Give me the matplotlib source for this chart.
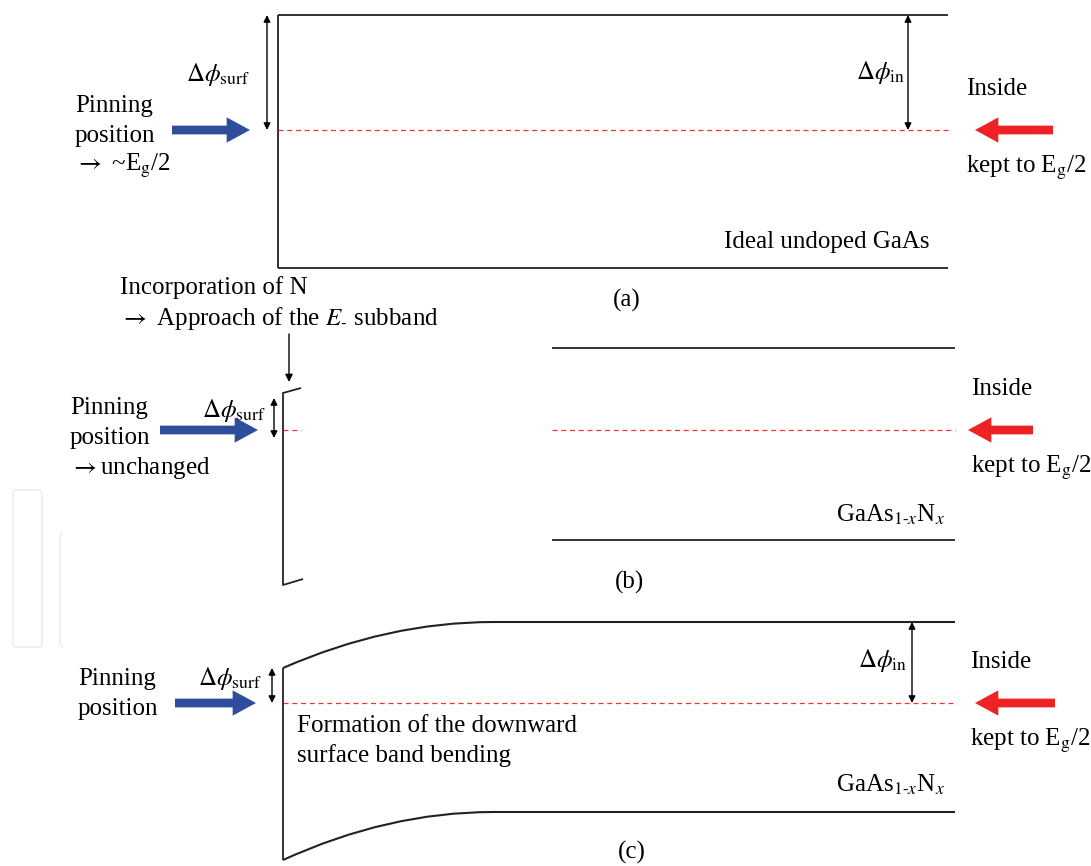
import matplotlib.pyplot as plt
from matplotlib.path import Path
from matplotlib.patches import PathPatch, FancyBboxPatch

plt.rcParams['font.family'] = ['Liberation Serif', 'DejaVu Serif']
plt.rcParams['mathtext.fontset'] = 'stix'

# level positions (pixel units, y grows downward)
surf_x = [278, 283, 283]              # surface position in (a), (b), (c)
band_right = [948, 955, 955]          # right end of the band lines
cb_level = [15, 348, 622]             # conduction band edge, bulk
vb_level = [268, 540, 812]            # valence band edge, bulk
ef_level = [130, 430, 703]            # Fermi level (Eg/2)
surf_cb = [15, 393, 668]              # conduction band edge at the surface
surf_vb = [268, 585, 860]             # valence band edge at the surface
bend_end = 493                        # where bending in (c) flattens out
b_left = 552                          # bulk part of (b) starts here
panel_tags = ['(a)', '(b)', '(c)']
tag_pos = [(627, 300), (630, 582), (632, 852)]

pin_labels = [['Pinning', 'position', r'$\rightarrow$ ~E$_\mathrm{g}$/2'],
              ['Pinning', 'position', r'$\rightarrow$unchanged'],
              ['Pinning', 'position']]
pin_x = [75, 70, 78]
pin_y = [[106, 136, 166], [408, 438, 468], [679, 709]]
blue_arrow = [(172, 250), (160, 258), (175, 256)]
red_arrow = [(1053, 975), (1033, 968), (1055, 975)]
inside_x = [966, 971, 970]
surf_arrow_x = [267, 274, 272]
surf_label_x = [250, 266, 262]
surf_label_y = [75, 411, 679]
in_arrow_x = [908, None, 912]

fig = plt.figure(figsize=(10.91, 8.66), dpi=100)
ax = fig.add_axes([0, 0, 1, 1])
ax.set_xlim(0, 1091)
ax.set_ylim(866, 0)
ax.axis('off')

line_kw = dict(color='#222222', lw=1.3, solid_capstyle='butt')
dash_kw = dict(color='#ee3333', lw=0.9, dashes=(4, 3))
fs = 18


def txt(x, y, s, ha='left', size=fs):
    ax.text(x, y, s, ha=ha, va='center', fontsize=size, color='black')


def double_arrow(x, y0, y1):
    ax.annotate('', xy=(x, y0), xytext=(x, y1),
                arrowprops=dict(arrowstyle='<|-|>', color='black', lw=1.0,
                                mutation_scale=10, shrinkA=0, shrinkB=0))


def fat_arrow(x0, x1, y, color):
    ax.annotate('', xy=(x1, y), xytext=(x0, y),
                arrowprops=dict(arrowstyle='simple,head_width=1.3,head_length=1.2,tail_width=0.45',
                                color=color, lw=0, mutation_scale=14,
                                shrinkA=0, shrinkB=0))


# faint logo outlines at the left edge
ax.add_patch(FancyBboxPatch((13, 490), 29, 157, boxstyle='round,pad=0,rounding_size=3',
                            fill=False, ec='#eeeeee', lw=1.2))
ax.plot([62, 60, 60, 62], [533, 536, 645, 647], color='#eeeeee', lw=1.2)

for i in range(3):
    # left-hand pinning labels and arrows
    for s, yy in zip(pin_labels[i], pin_y[i]):
        txt(pin_x[i], yy, s)
    fat_arrow(blue_arrow[i][0], blue_arrow[i][1], ef_level[i], '#2e4d9c')
    top = surf_cb[i] + (5 if i == 1 else 0)
    bot = ef_level[i] + (8 if i == 1 else 0)
    double_arrow(surf_arrow_x[i], top, bot)
    txt(surf_label_x[i], surf_label_y[i], r'$\mathit{\Delta\phi}_\mathrm{surf}$',
        ha='right', size=18)

    # right-hand bulk labels
    txt(inside_x[i], ef_level[i] - 41, 'Inside')
    txt(inside_x[i], ef_level[i] + 38, r'kept to E$_\mathrm{g}$/2')
    fat_arrow(red_arrow[i][0], red_arrow[i][1], ef_level[i], '#ee2222')

    txt(tag_pos[i][0], tag_pos[i][1], panel_tags[i], ha='center')

# (a) flat bands of ideal GaAs
ax.plot([surf_x[0], band_right[0]], [cb_level[0]] * 2, **line_kw)
ax.plot([surf_x[0], band_right[0]], [vb_level[0]] * 2, **line_kw)
ax.plot([surf_x[0], surf_x[0]], [cb_level[0], vb_level[0]], **line_kw)
ax.plot([surf_x[0], band_right[0]], [ef_level[0]] * 2, **dash_kw)
double_arrow(in_arrow_x[0], cb_level[0], ef_level[0])
txt(905, 73, r'$\mathit{\Delta\phi}_\mathrm{in}$', ha='right', size=18)
txt(930, 242, 'Ideal undoped GaAs', ha='right')

# (b) surface with E- subband approaching
x0 = surf_x[1]
ax.plot([x0 + 18, x0, x0, x0 + 20],
        [surf_cb[1] - 5, surf_cb[1], surf_vb[1], surf_vb[1] - 6], **line_kw)
ax.plot([x0, x0 + 18], [ef_level[1]] * 2, **dash_kw)
ax.plot([b_left, band_right[1]], [cb_level[1]] * 2, **line_kw)
ax.plot([b_left, band_right[1]], [vb_level[1]] * 2, **line_kw)
ax.plot([b_left, band_right[1]], [ef_level[1]] * 2, **dash_kw)
txt(120, 288, 'Incorporation of N')
txt(120, 319, r'$\rightarrow$ Approach of the $E_{\text{-}}$ subband')
ax.annotate('', xy=(289, 382), xytext=(289, 334),
            arrowprops=dict(arrowstyle='-|>', color='black', lw=1.0,
                            mutation_scale=11, shrinkA=0, shrinkB=0))
txt(945, 515, r'GaAs$_{1\text{-}x}$N$_x$', ha='right')

# (c) downward surface band bending
x0 = surf_x[2]
for y_s, y_b in [(surf_cb[2], cb_level[2]), (surf_vb[2], vb_level[2])]:
    xm = (x0 + bend_end) / 2
    verts = [(x0, y_s), (xm, y_b), (bend_end, y_b), (band_right[2], y_b)]
    codes = [Path.MOVETO, Path.CURVE3, Path.CURVE3, Path.LINETO]
    ax.add_patch(PathPatch(Path(verts, codes), fill=False, ec='#222222', lw=1.5))
ax.plot([x0, x0], [surf_cb[2], surf_vb[2]], **line_kw)
ax.plot([x0, band_right[2]], [ef_level[2]] * 2, **dash_kw)
double_arrow(in_arrow_x[2], cb_level[2], ef_level[2])
txt(907, 661, r'$\mathit{\Delta\phi}_\mathrm{in}$', ha='right', size=18)
txt(297, 726, 'Formation of the downward')
txt(297, 756, 'surface band bending')
txt(945, 785, r'GaAs$_{1\text{-}x}$N$_x$', ha='right')

fig.savefig('out.png', dpi=100)
